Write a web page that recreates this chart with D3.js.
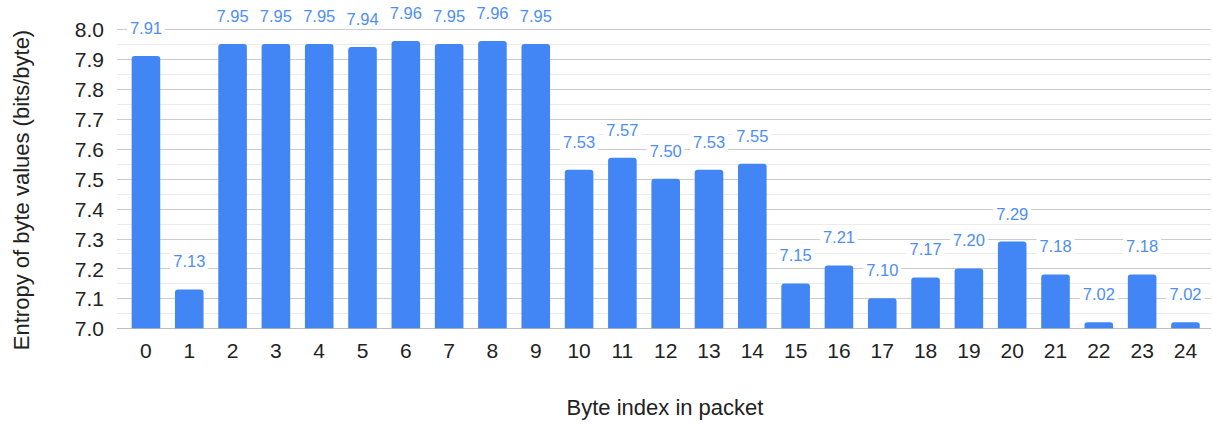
<!DOCTYPE html>
<html>
<head>
<meta charset="utf-8">
<script src="https://cdn.jsdelivr.net/npm/d3@7"></script>
<style>
  html, body { margin: 0; padding: 0; background: #fff; }
  svg { display: block; font-family: "Liberation Sans", Arial, sans-serif; }
</style>
</head>
<body>
<svg id="chart" width="1213" height="426"></svg>
<script>
// Entropy per byte position
const byteIndex = d3.range(25).map(String);
const entropy = [7.91, 7.13, 7.95, 7.95, 7.95, 7.94, 7.96, 7.95, 7.96, 7.95,
                 7.53, 7.57, 7.50, 7.53, 7.55, 7.15, 7.21, 7.10, 7.17, 7.20,
                 7.29, 7.18, 7.02, 7.18, 7.02];
const yTicks = [7.0, 7.1, 7.2, 7.3, 7.4, 7.5, 7.6, 7.7, 7.8, 7.9, 8.0];
const yMinor = d3.range(7.05, 8.0, 0.1);

const svg = d3.select("#chart");
const gridLeft = 117, gridRight = 1211;
const plotTop = 29, plotBottom = 328.3;
const font = "'Liberation Sans', Arial, sans-serif";

const x = d3.scaleBand().domain(byteIndex).range([124.3, 1207.1]).paddingInner(0.34).paddingOuter(0.17);
const y = d3.scaleLinear().domain([7.0, 8.0]).range([plotBottom, plotTop]);

// minor gridlines
svg.append("g").selectAll("line").data(yMinor).join("line")
  .attr("x1", gridLeft).attr("x2", gridRight)
  .attr("y1", d => Math.round(y(d)) + 0.5).attr("y2", d => Math.round(y(d)) + 0.5)
  .attr("stroke", "#ebebeb").attr("stroke-width", 1);

// major gridlines
svg.append("g").selectAll("line").data(yTicks).join("line")
  .attr("x1", gridLeft).attr("x2", gridRight)
  .attr("y1", d => Math.round(y(d)) + 0.5).attr("y2", d => Math.round(y(d)) + 0.5)
  .attr("stroke", d => d === 7.0 ? "#bdbdbd" : "#cccccc").attr("stroke-width", 1.2);

// y tick labels
const yAxis = d3.axisLeft(y).tickValues(yTicks).tickFormat(d3.format(".1f")).tickSize(0).tickPadding(0);
const gy = svg.append("g").attr("transform", "translate(104,0)").call(yAxis);
gy.select(".domain").remove();
gy.selectAll("text").attr("font-size", 21).attr("fill", "#222").attr("font-family", font)
  .attr("dy", "0.36em");

// x tick labels
const xAxis = d3.axisBottom(x).tickSize(0).tickPadding(0);
const gx = svg.append("g").attr("transform", `translate(0,${plotBottom})`).call(xAxis);
gx.select(".domain").remove();
gx.selectAll("text").attr("font-size", 21).attr("fill", "#222").attr("dy", null)
  .attr("y", 30).attr("font-family", font);

// bars with rounded top corners
const r = 3;
function barPath(d, i) {
  const x0 = x(byteIndex[i]), w = x.bandwidth();
  const y0 = y(d), y1 = y(7.0);
  const rr = Math.min(r, (y1 - y0) / 2);
  return `M${x0},${y1}V${y0 + rr}Q${x0},${y0} ${x0 + rr},${y0}H${x0 + w - rr}Q${x0 + w},${y0} ${x0 + w},${y0 + rr}V${y1}Z`;
}
svg.append("g").selectAll("path").data(entropy).join("path")
  .attr("d", barPath)
  .attr("fill", "#4285F4");

// value labels with white backing
const labels = svg.append("g").selectAll("g").data(entropy).join("g")
  .attr("transform", (d, i) => `translate(${x(byteIndex[i]) + x.bandwidth() / 2},${y(d) - 22})`);
labels.append("rect")
  .attr("x", -19).attr("y", -14).attr("width", 38).attr("height", 18)
  .attr("fill", "#fff");
labels.append("text")
  .attr("text-anchor", "middle")
  .attr("font-size", 16.5)
  .attr("font-family", font)
  .attr("fill", "#4d8ef5")
  .text(d => d.toFixed(2));

// axis titles
svg.append("text")
  .attr("transform", "translate(29,190) rotate(-90)")
  .attr("text-anchor", "middle")
  .attr("font-size", 22).attr("fill", "#222").attr("font-family", font)
  .text("Entropy of byte values (bits/byte)");

svg.append("text")
  .attr("x", 665).attr("y", 415)
  .attr("text-anchor", "middle")
  .attr("font-size", 22).attr("fill", "#222").attr("font-family", font)
  .text("Byte index in packet");
</script>
</body>
</html>
